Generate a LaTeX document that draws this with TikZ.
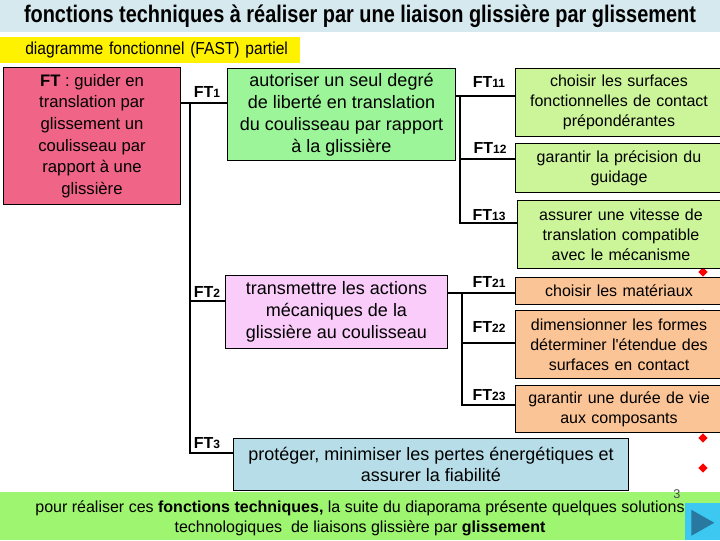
\documentclass[tikz,border=0pt]{standalone}
\usepackage{fontspec}
\setmainfont{Liberation Sans}
\newfontfamily\titlefont[FakeStretch=0.83]{Liberation Sans}
\newfontfamily\narrowfont[FakeStretch=0.9]{Liberation Sans}
\usetikzlibrary{shapes.geometric, positioning}

\definecolor{titlebg}{RGB}{213,233,238}
\definecolor{footbg}{RGB}{158,245,112}
\definecolor{ftpink}{RGB}{240,100,135}
\definecolor{ftgreen}{RGB}{156,245,152}
\definecolor{subgreen}{RGB}{204,245,154}
\definecolor{ftmauve}{RGB}{250,204,250}
\definecolor{suborange}{RGB}{250,196,150}
\definecolor{ftblue}{RGB}{183,222,232}
\definecolor{btnbg}{RGB}{60,200,240}
\definecolor{btnfg}{RGB}{40,120,160}

\newcommand{\ftnum}[1]{FT{\fontsize{9}{9}\selectfont\raisebox{-0.6pt}{#1}}}

\begin{document}
\begin{tikzpicture}[x=0.75pt, y=-0.75pt,
  box/.style={draw, line width=0.75pt, anchor=north west, align=center, inner sep=0pt},
  mainbox/.style={box, font=\fontsize{13.5}{16.4}\selectfont},
  subbox/.style={box, minimum width=155.25pt, text width=152pt,
    font=\fontsize{12}{15}\selectfont},
  ftlab/.style={font=\bfseries\fontsize{12}{12}\selectfont, inner sep=0pt},
  tree/.style={line width=2pt},
  puce/.style={diamond, fill=red, inner sep=0pt, minimum size=7pt}]
\useasboundingbox (0,0) rectangle (720,540);

% bandeaux
\node[fill=titlebg, anchor=north west, minimum width=540pt, minimum height=24pt, inner sep=0pt] (band) at (0,0) {};
\node[font=\titlefont\bfseries\fontsize{18}{20}\selectfont] (title) at (360,16)
  {fonctions techniques à réaliser par une liaison glissière par glissement};
\node[fill=yellow, anchor=north west, minimum width=225pt, minimum height=19.5pt,
  inner sep=0pt, text width=225pt, align=left, font=\narrowfont\fontsize{13}{14}\selectfont] (fast) at (0,37)
  {\hspace*{18.75pt}diagramme fonctionnel (FAST) partiel};
\node[fill=footbg, anchor=north west, minimum width=540pt, minimum height=36pt, inner sep=0pt] (foot) at (0,492) {};
\node[align=center, inner sep=0pt, font=\fontsize{12}{15}\selectfont] (footxt) at (360,518)
  {pour réaliser ces \textbf{fonctions techniques,} la suite du diaporama présente quelques solutions\\
   technologiques\ \ de liaisons glissière par \textbf{glissement}};
\node[font=\fontsize{9.5}{9.5}\selectfont, text=black!70, inner sep=0pt] (pgnum) at (677,494) {3};
\node[fill=btnbg, anchor=north west, minimum width=26.25pt, minimum height=27.75pt, inner sep=0pt] (btn) at (685,503) {};
\fill[btnfg] (btn.center) ++(-11.5,-12) -- ++(0,26) -- ++(23,-13) -- cycle;

% puces
\node[puce] (d1) at (703,272) {};
\node[puce] (d2) at (703,314) {};
\node[puce] (d3) at (703,438) {};
\node[puce] (d4) at (703,468) {};

% fonctions
\node[mainbox, fill=ftpink, minimum width=132.75pt, minimum height=102.75pt,
  font=\fontsize{12.5}{16.2}\selectfont] (ft) at (3,67)
  {\textbf{FT} : guider en\\translation par\\glissement un\\coulisseau par\\rapport à une\\glissière};
\node[mainbox, fill=ftgreen, minimum width=171pt, minimum height=69pt] (ft1) at (227,68)
  {autoriser un seul degré\\de liberté en translation\\du coulisseau par rapport\\à la glissière};
\node[mainbox, fill=ftmauve, minimum width=166.5pt, minimum height=54.75pt] (ft2) at (225,275)
  {transmettre les actions\\mécaniques de la\\glissière au coulisseau};
\node[mainbox, fill=ftblue, minimum width=296.25pt, minimum height=39pt,
  font=\fontsize{13.5}{15.75}\selectfont] (ft3) at (233,438)
  {protéger, minimiser les pertes énergétiques et\\assurer la fiabilité};

\node[subbox, fill=subgreen, minimum height=51pt] (ft11) at (515,68)
  {choisir les surfaces\\fonctionnelles de contact\\prépondérantes};
\node[subbox, fill=subgreen, minimum height=36.75pt] (ft12) at (515,143)
  {garantir la précision du\\guidage};
\node[subbox, fill=subgreen, minimum height=51pt] (ft13) at (517,200)
  {assurer une vitesse de\\translation compatible\\avec le mécanisme};
\node[subbox, fill=suborange, minimum height=20.25pt] (ft21) at (515,277)
  {choisir les matériaux};
\node[subbox, fill=suborange, minimum height=51pt] (ft22) at (515,310)
  {dimensionner les formes\\déterminer l\textquotesingle étendue des\\surfaces en contact};
\node[subbox, fill=suborange, minimum height=35.25pt] (ft23) at (515,385)
  {garantir une durée de vie\\aux composants};

% arbre
\coordinate (s1) at (190,103);
\coordinate (s2) at (190,301);
\coordinate (s3) at (190,453);
\draw[tree] (ft.east |- s1) -- (ft1.west |- s1);
\draw[tree] (s1) -- (s3) -- (ft3.west |- s3);
\draw[tree] (s2) -- (ft2.west |- s2);

\coordinate (t1) at (460,96);
\coordinate (t2) at (460,159);
\coordinate (t3) at (460,223);
\draw[tree] (ft1.east |- t1) -- (ft11.west |- t1);
\draw[tree] (t1) -- (t3) -- (ft13.west |- t3);
\draw[tree] (t2) -- (ft12.west |- t2);

\coordinate (u1) at (462,293);
\coordinate (u2) at (462,343);
\coordinate (u3) at (462,405);
\draw[tree] (ft2.east |- u1) -- (ft21.west |- u1);
\draw[tree] (u1) -- (u3) -- (ft23.west |- u3);
\draw[tree] (u2) -- (ft22.west |- u2);

% etiquettes
\node[ftlab] (l1) at (207,92) {\ftnum{1}};
\node[ftlab] (l2) at (207,292) {\ftnum{2}};
\node[ftlab] (l3) at (207,443) {\ftnum{3}};
\node[ftlab] (l11) at (489,82) {\ftnum{11}};
\node[ftlab] (l12) at (490,148) {\ftnum{12}};
\node[ftlab] (l13) at (489,215) {\ftnum{13}};
\node[ftlab] (l21) at (489,282) {\ftnum{21}};
\node[ftlab] (l22) at (489,327) {\ftnum{22}};
\node[ftlab] (l23) at (489,395) {\ftnum{23}};
\end{tikzpicture}
\end{document}
